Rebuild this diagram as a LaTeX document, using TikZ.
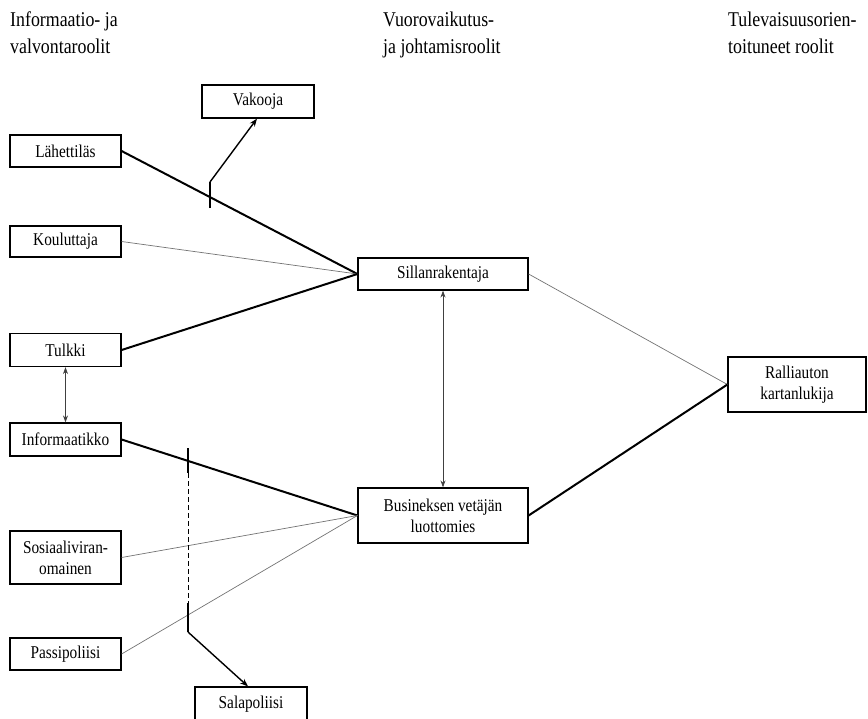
\documentclass[tikz,border=0pt]{standalone}
\usepackage{fontspec}
\setmainfont{Liberation Serif}[FakeStretch=0.85]
\usetikzlibrary{arrows.meta}
\begin{document}
\begin{tikzpicture}[x=1pt,y=-1pt,
  box/.style={draw, line width=1.2pt, inner sep=0pt, align=center,
    font=\fontsize{18}{21}\selectfont},
  thickline/.style={line width=2pt},
  thinline/.style={line width=0.7pt, black!55},
  arrowline/.style={line width=1.4pt, -{Stealth[length=8pt,width=6pt]}},
  dbl/.style={line width=0.8pt, black!75, {Stealth[length=7pt,width=5pt]}-{Stealth[length=7pt,width=5pt]}},
  head/.style={anchor=north west, inner sep=0pt, align=left,
    font=\fontsize{21}{27}\selectfont}]
\useasboundingbox (0,0) rectangle (868,718);
\clip (0,0) rectangle (868,718);

% headers
\node[head] (h1) at (10,12) {Informaatio- ja\\valvontaroolit};
\node[head] (h2) at (383,12) {Vuorovaikutus-\\ja johtamisroolit};
\node[head] (h3) at (728,12) {Tulevaisuusorien-\\toituneet roolit};

% left column
\node[box, minimum width=111pt, minimum height=32pt] (lah) at (65.5,151) {Lähettiläs};
\node[box, minimum width=111pt, minimum height=31pt] (kou) at (65.5,241.5) {Kouluttaja};
\node[box, minimum width=111pt, minimum height=33pt] (tul) at (65.5,350) {Tulkki};
\node[box, minimum width=111pt, minimum height=33pt] (inf) at (65.5,439.5) {Informaatikko};
\node[box, minimum width=111pt, minimum height=53pt] (sos) at (65.5,557.5) {Sosiaaliviran-\\omainen};
\node[box, minimum width=111pt, minimum height=32pt] (pas) at (65.5,654) {Passipoliisi};

% others
\node[box, minimum width=112pt, minimum height=33pt] (vak) at (258,101.5) {Vakooja};
\node[box, minimum width=112pt, minimum height=34pt] (sal) at (251,704) {Salapoliisi};
\node[box, minimum width=170pt, minimum height=32pt] (sil) at (443,274) {Sillanrakentaja};
\node[box, minimum width=170pt, minimum height=55pt] (bus) at (443,515.5) {Busineksen vetäjän\\luottomies};
\node[box, minimum width=138pt, minimum height=55pt] (ral) at (797,384.5) {Ralliauton\\kartanlukija};

% connectors to Sillanrakentaja
\draw[thickline] (lah.east) -- (sil.west);
\draw[thinline] (kou.east) -- (sil.west);
\draw[thickline] (tul.east) -- (sil.west);
% connectors to Busineksen
\draw[thickline] (inf.east) -- (bus.west);
\draw[thinline] (sos.east) -- (bus.west);
\draw[thinline] (pas.east) -- (bus.west);
% to Ralliauton
\draw[thinline] (sil.east) -- (ral.west);
\draw[thickline] (bus.east) -- (ral.west);
% double arrows
\draw[dbl] (tul.south) -- (inf.north);
\draw[dbl] (sil.south) -- (bus.north);

% Vakooja branch
\coordinate (va) at (210,208);
\coordinate (vb) at (210,182);
\draw[line width=1.4pt] (va) -- (vb);
\draw[arrowline] (vb) -- ([xshift=-1pt]vak.south);

% Salapoliisi branch
\coordinate (sa) at (188,448);
\coordinate (sb) at (188,473);
\coordinate (sc) at (188,603);
\coordinate (sd) at (188,632);
\draw[line width=1.4pt] (sa) -- (sb);
\draw[line width=0.8pt, dashed, dash pattern=on 5pt off 3pt] (sb) -- (sc);
\draw[line width=1.4pt] (sc) -- (sd);
\draw[arrowline] (sd) -- ([xshift=-3pt]sal.north);
\end{tikzpicture}
\end{document}
